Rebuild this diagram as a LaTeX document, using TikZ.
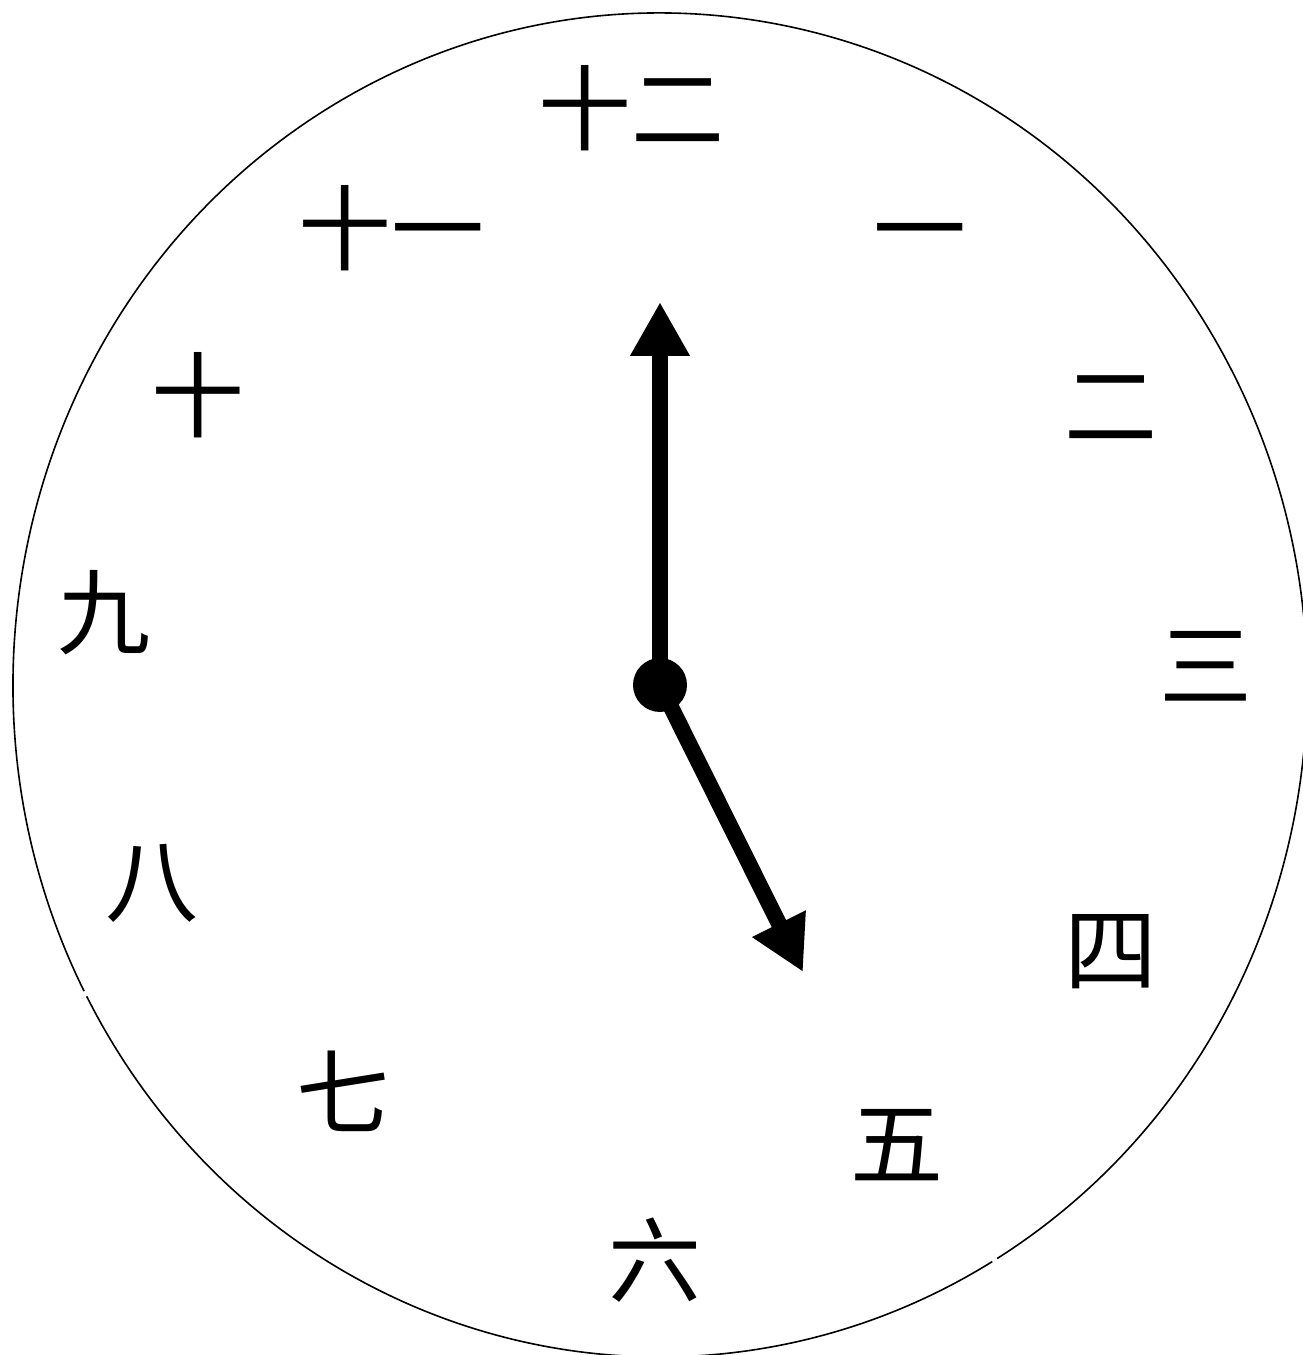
\documentclass[tikz,border=0pt]{standalone}
\usepackage{fontspec}
\newfontfamily\cjk{Noto Sans CJK SC}
\usetikzlibrary{arrows.meta}
\tikzset{
  numeral/.style={font=\cjk\fontsize{93}{93}\selectfont, inner sep=0pt, text height=82pt, text depth=11pt},
  rim/.style={line width=1.6pt},
  hand/.style={line width=16pt, -{Triangle[length=54pt,width=56pt]}}
}
\begin{document}
\begin{tikzpicture}[x=1pt,y=1pt]
\useasboundingbox (0,0) rectangle (1303,1355);
\clip (0,0) rectangle (1303,1355);
\fill[white] (0,0) rectangle (1303,1355);
\coordinate (c) at (660,670);
% rim with two small breaks
\draw[rim] (c) ++(207.6:647pt and 672pt) arc[start angle=207.6, end angle=300.9, x radius=647pt, y radius=672pt];
\draw[rim] (c) ++(301.4:647pt and 672pt) arc[start angle=301.4, end angle=567.1, x radius=647pt, y radius=672pt];
% numerals
\node[numeral] (n12) at (631,1247) {十二};
\node[numeral] (n1) at (920,1127) {一};
\node[numeral] (n2) at (1111,950) {二};
\node[numeral] (n3) at (1206,690) {三};
\node[numeral] (n4) at (1111,406) {四};
\node[numeral] (n5) at (897,212) {五};
\node[numeral] (n6) at (655,95) {六};
\node[numeral] (n7) at (343,263) {七};
\node[numeral] (n8) at (152,475) {八};
\node[numeral] (n9) at (104,743) {九};
\node[numeral] (n10) at (198,960) {十};
\node[numeral] (n11) at (391,1127) {十一};
% hands
\coordinate (mtip) at (660,1053);
\coordinate (htip) at (803,383);
\draw[hand] (c) -- (mtip);
\draw[hand] (c) -- (htip);
\node[circle, fill=black, minimum size=54pt, inner sep=0pt] (hub) at (c) {};
\end{tikzpicture}
\end{document}
